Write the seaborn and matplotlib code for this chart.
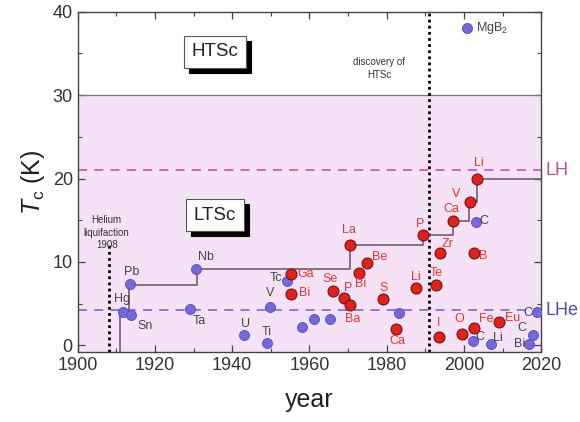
import matplotlib
matplotlib.use("Agg")
import matplotlib.pyplot as plt
from matplotlib.transforms import offset_copy
import seaborn as sns
import pandas as pd

# classic elemental superconductors (blue)
blue_year = [1911.7, 1913.9, 1913.6, 1930.7, 1929, 1943, 1948.9, 1949.9, 1954.2,
             1958, 1961.2, 1965.3, 1983.2, 2003.1, 2002.4, 2007.1, 2016.9, 2018, 2019, 2000.9]
blue_tc = [4.0, 3.6, 7.3, 9.1, 4.3, 1.2, 0.3, 4.6, 7.7,
           2.2, 3.2, 3.2, 3.9, 14.8, 0.5, 0.2, 0.2, 1.2, 4.0, 38.0]
blue_lbl = ["Hg", "Sn", "Pb", "Nb", "Ta", "U", "Ti", "V", "Tc",
            "", "", "", "", "C", "C", "Li", "Bi", "C", "C", "MgB$_2$"]

# high-pressure superconductors (red)
red_year = [1955.1, 1955.1, 1966, 1969, 1970.6, 1972.9, 1974.9, 1970.6, 1979.1, 1982.4,
            1987.5, 1989.3, 1992.9, 1993.9, 1993.5, 1999.4, 1997.1, 2001.7, 2003.4,
            2002.6, 2002.6, 2009.1]
red_tc = [8.5, 6.1, 6.5, 5.7, 4.8, 8.7, 9.9, 12.0, 5.5, 1.9,
          6.9, 13.2, 7.2, 11.1, 1.0, 1.3, 14.9, 17.2, 20.0,
          11.1, 2.1, 2.8]
red_lbl = ["Ga", "Bi", "Se", "P", "Ba", "Bi", "Be", "La", "S", "Ca",
           "Li", "P", "Te", "Zr", "I", "O", "Ca", "V", "Li",
           "B", "Fe", "Eu"]

# record Tc step line
step_year = [1911, 1911, 1913.4, 1930.9, 1970.6, 1989.5, 1997.3, 2001.4, 2003.4, 2020]
step_tc = [-0.8, 4.2, 7.2, 9.2, 12.0, 13.2, 14.9, 17.2, 20.0, 20.0]

T_LH = 21.0
T_LHE = 4.2
T_LTSC_MAX = 30
YEAR_HE = 1908
YEAR_HTSC = 1991

blue_off = [(-1, 9), (10, -8), (1, 9), (7, 9), (7, -8), (1, 8), (0, 8), (0, 10), (-8, 2),
            (0, 0), (0, 0), (0, 0), (0, 0), (6, 1), (5, 3), (5, 4), (-7, 0), (-8, 5), (-7, -1), (6, 0)]
red_off = [(11, 0), (10, 1), (-2, 9), (3, 7), (2, -10), (1, -8), (9, 4), (-1, 11), (0, 8), (1, -8),
           (0, 8), (-2, 8), (0, 9), (5, 6), (0, 10), (-2, 11), (-1, 9), (-10, 6), (1, 11),
           (7, -2), (9, 6), (10, 3)]

blue_df = pd.DataFrame({"year": blue_year, "tc": blue_tc})
red_df = pd.DataFrame({"year": red_year, "tc": red_tc})

sns.set_style("ticks")
plt.rcParams["font.family"] = ["Liberation Sans", "DejaVu Sans"]
plt.rcParams["mathtext.fontset"] = "custom"
plt.rcParams["mathtext.rm"] = "Liberation Sans"
plt.rcParams["mathtext.it"] = "Liberation Sans:italic"

fig = plt.figure(figsize=(5.8, 4.22), dpi=100)
ax = fig.add_axes([0.134, 0.166, 0.799, 0.806])

ax.set_xlim(1900, 2020)
ax.set_ylim(-0.8, 40)

pink = "#f6e2f6"
ax.axhspan(-0.8, T_LTSC_MAX, color=pink, zorder=0, lw=0)
ax.axhline(T_LTSC_MAX, color="#777777", lw=0.9, zorder=1)

ax.axhline(T_LH, color="#c95ac9", lw=1.3, ls=(0, (5, 4)), zorder=1)
ax.axhline(T_LHE, color="#8070d8", lw=1.3, ls=(0, (5, 4)), zorder=1)

ax.plot([YEAR_HE, YEAR_HE], [-0.8, 12.2], color="black", lw=2, ls=(0, (1, 1.2)), zorder=2)
ax.axvline(YEAR_HTSC, color="black", lw=2, ls=(0, (1, 1.2)), zorder=2)

ax.step(step_year, step_tc, where="post", color="#6e6070", lw=1.2, zorder=2)

sns.scatterplot(data=blue_df, x="year", y="tc", ax=ax, color="#7468dc",
                edgecolor="#5548b8", linewidth=0.6, s=52, zorder=4, legend=False)
sns.scatterplot(data=red_df, x="year", y="tc", ax=ax, color="#e0221a",
                edgecolor="#7a1010", linewidth=0.8, s=62, zorder=5, legend=False)

for x, y, t, (dx, dy) in zip(blue_year, blue_tc, blue_lbl, blue_off):
    if t:
        ha = "left" if t.startswith("MgB") else "center"
        ax.annotate(t, (x, y), xytext=(dx, dy), textcoords="offset points",
                    ha=ha, va="center", fontsize=9, color="#444444", zorder=7)
for x, y, t, (dx, dy) in zip(red_year, red_tc, red_lbl, red_off):
    ax.annotate(t, (x, y), xytext=(dx, dy), textcoords="offset points",
                ha="center", va="center", fontsize=9, color="#e8352c", zorder=7)

# boxed region labels with a solid black drop shadow
shadow_tr = offset_copy(ax.transData, fig=fig, x=5, y=-5, units="dots")
for txt, yy in [("HTSc", 35.2), ("LTSc", 15.6)]:
    ax.text(1935.5, yy, txt, transform=shadow_tr, ha="center", va="center", fontsize=13.5,
            color="black", zorder=20,
            bbox=dict(boxstyle="square,pad=0.4", fc="black", ec="black", lw=0.8))
    ax.text(1935.5, yy, txt, ha="center", va="center", fontsize=13.5,
            color="#222222", zorder=21,
            bbox=dict(boxstyle="square,pad=0.4", fc="white", ec="#555555", lw=0.8))

ax.text(1907.5, 13.5, "Helium\nliquifaction\n1908", ha="center", va="center",
        fontsize=7, color="#333333", linespacing=1.3, zorder=7)
ax.text(1978, 33.2, "discovery of\nHTSc", ha="center", va="center",
        fontsize=7, color="#333333", linespacing=1.3, zorder=7)

ax.text(1.01, (T_LH + 0.8) / 40.8, "LH", transform=ax.transAxes, ha="left", va="center",
        fontsize=13, color="#b0509c")
ax.text(1.01, (T_LHE + 0.8) / 40.8, "LHe", transform=ax.transAxes, ha="left", va="center",
        fontsize=13, color="#4a4ac0")

ax.set_xticks(range(1900, 2021, 20))
ax.set_xticks(range(1900, 2021, 10), minor=True)
ax.set_yticks(range(0, 41, 10))
ax.set_yticks(range(0, 41, 5), minor=True)
ax.tick_params(which="both", direction="in", top=True, right=True, color="#444444",
               labelsize=13, labelcolor="#333333")
ax.tick_params(which="major", length=5, width=0.9)
ax.tick_params(which="minor", length=3, width=0.8)
for s in ax.spines.values():
    s.set_color("#444444")
    s.set_linewidth(1.0)

ax.set_xlabel("year", fontsize=18, color="#222222", labelpad=10)
ax.set_ylabel("$T_\\mathrm{c}$ (K)", fontsize=18, color="#222222", labelpad=4)

fig.savefig("out.png", dpi=100)
